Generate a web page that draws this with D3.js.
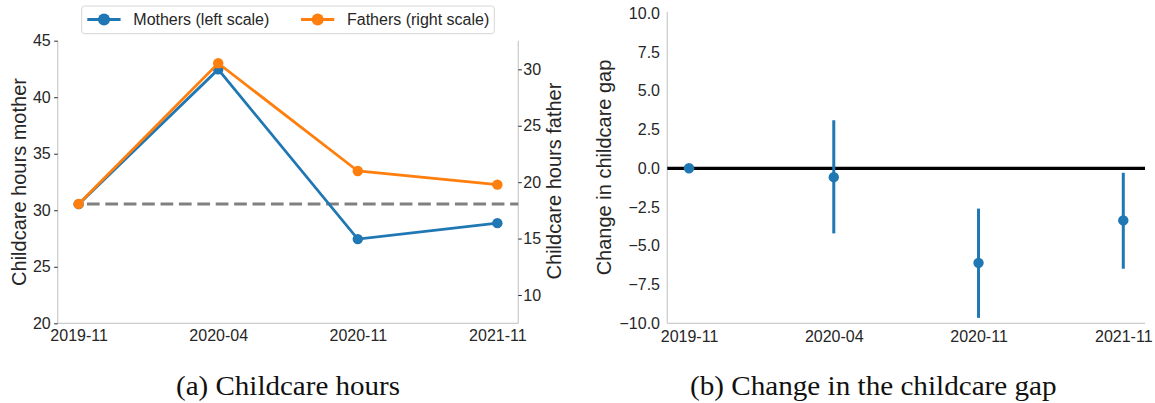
<!DOCTYPE html>
<html>
<head>
<meta charset="utf-8">
<script src="https://cdn.jsdelivr.net/npm/d3@7"></script>
<style>
  body { margin: 0; background: #fff; }
  text { font-family: "Liberation Sans", Arial, sans-serif; fill: #262626; }
  .caption { font-family: "Liberation Serif", "Times New Roman", serif; fill: #111; }
</style>
</head>
<body>
<div id="chart"></div>
<script>
// Survey waves on the x axis
const waves = ["2019-11", "2020-04", "2020-11", "2021-11"];

// (a) childcare hours
const mothers = [30.54, 42.46, 27.45, 28.86];   // left scale
const fathers = [18.07, 30.54, 20.99, 19.78];   // right scale
const mothersBaseline = 30.55;
const leftTicks = [20, 25, 30, 35, 40, 45];
const rightTicks = [10, 15, 20, 25, 30];

// (b) change in the gap, with confidence bands
const gapEstimate = [0, -0.57, -6.1, -3.36];
const gapLower = [0, -4.2, -9.65, -6.48];
const gapUpper = [0, 3.1, -2.6, -0.29];
const gapTicks = [-10, -7.5, -5, -2.5, 0, 2.5, 5, 7.5, 10];

const blue = "#1f77b4", orange = "#ff7f0e", spineColor = "#cccccc";
const tickFont = "16px";

const svg = d3.select("#chart")
  .append("svg")
  .attr("width", 1155)
  .attr("height", 403);

svg.append("rect").attr("width", 1155).attr("height", 403).attr("fill", "#fff");

// ---------- panel (a) ----------
const a = {left: 57.7, right: 518.3, top: 40.7, bottom: 323.3};

const xa = d3.scaleLinear().domain([-0.15, 3.15]).range([a.left, a.right]);
const yMom = d3.scaleLinear().domain([20, 45]).range([a.bottom, a.top]);
const yDad = d3.scaleLinear().domain([7.49, 32.54]).range([a.bottom, a.top]);

const pa = svg.append("g");

// spines
pa.append("line").attr("x1", a.left).attr("x2", a.left).attr("y1", a.top).attr("y2", a.bottom)
  .attr("stroke", spineColor).attr("stroke-width", 1.25);
pa.append("line").attr("x1", a.right).attr("x2", a.right).attr("y1", a.top).attr("y2", a.bottom)
  .attr("stroke", spineColor).attr("stroke-width", 1.25);
pa.append("line").attr("x1", a.left).attr("x2", a.right).attr("y1", a.bottom).attr("y2", a.bottom)
  .attr("stroke", spineColor).attr("stroke-width", 1.25);

// axes
pa.append("g")
  .attr("transform", `translate(${a.left},0)`)
  .call(d3.axisLeft(yMom).tickValues(leftTicks).tickSize(3.5).tickPadding(3.5))
  .call(g => g.select(".domain").remove())
  .call(g => g.selectAll("line").attr("stroke", "#262626"))
  .call(g => g.selectAll("text").style("font-size", tickFont).attr("fill", "#262626"));

pa.append("g")
  .attr("transform", `translate(${a.right},0)`)
  .call(d3.axisRight(yDad).tickValues(rightTicks).tickSize(3.5).tickPadding(1.5))
  .call(g => g.select(".domain").remove())
  .call(g => g.selectAll("line").attr("stroke", "#262626"))
  .call(g => g.selectAll("text").style("font-size", tickFont).attr("fill", "#262626"));

pa.append("g")
  .attr("transform", `translate(0,${a.bottom})`)
  .call(d3.axisBottom(xa).tickValues([0, 1, 2, 3]).tickFormat(i => waves[i]).tickSize(0).tickPadding(6))
  .call(g => g.select(".domain").remove())
  .call(g => g.selectAll("text").style("font-size", tickFont).attr("fill", "#262626"));

// axis titles
pa.append("text")
  .attr("transform", `translate(26,182) rotate(-90)`)
  .style("text-anchor", "middle")
  .style("font-size", "20px")
  .text("Childcare hours mother");

pa.append("text")
  .attr("transform", `translate(561,181) rotate(-90)`)
  .style("text-anchor", "middle")
  .style("font-size", "20px")
  .text("Childcare hours father");

// baseline (dashed)
pa.append("line")
  .attr("x1", xa(0)).attr("x2", a.right)
  .attr("y1", yMom(mothersBaseline)).attr("y2", yMom(mothersBaseline))
  .attr("stroke", "#808080").attr("stroke-width", 3)
  .attr("stroke-dasharray", "12.7,5.7").attr("stroke-dashoffset", 10.1);

// series lines
const lineMom = d3.line().x((d, i) => xa(i)).y(d => yMom(d));
const lineDad = d3.line().x((d, i) => xa(i)).y(d => yDad(d));

pa.append("path").datum(mothers).attr("d", lineMom)
  .attr("fill", "none").attr("stroke", blue).attr("stroke-width", 2.8);
pa.selectAll(".dotM").data(mothers).join("circle")
  .attr("cx", (d, i) => xa(i)).attr("cy", d => yMom(d)).attr("r", 5.2).attr("fill", blue);

pa.append("path").datum(fathers).attr("d", lineDad)
  .attr("fill", "none").attr("stroke", orange).attr("stroke-width", 2.8);
pa.selectAll(".dotF").data(fathers).join("circle")
  .attr("cx", (d, i) => xa(i)).attr("cy", d => yDad(d)).attr("r", 5.2).attr("fill", orange);

// legend
const lg = pa.append("g");
lg.append("rect")
  .attr("x", 81.7).attr("y", 6).attr("width", 412.6).attr("height", 27.7).attr("rx", 3)
  .attr("fill", "#fff").attr("fill-opacity", 0.8).attr("stroke", "#d6d6d6");
const legendItems = [
  {label: "Mothers (left scale)", color: blue, x0: 87.3},
  {label: "Fathers (right scale)", color: orange, x0: 301}
];
legendItems.forEach(it => {
  lg.append("line").attr("x1", it.x0).attr("x2", it.x0 + 33.3).attr("y1", 19.5).attr("y2", 19.5)
    .attr("stroke", it.color).attr("stroke-width", 2.8);
  lg.append("circle").attr("cx", it.x0 + 16.7).attr("cy", 19.5).attr("r", 6).attr("fill", it.color);
  lg.append("text").attr("x", it.x0 + 46).attr("y", 24.8)
    .style("font-size", "16px").text(it.label);
});

// caption
svg.append("text").attr("class", "caption")
  .attr("x", 288).attr("y", 395)
  .style("text-anchor", "middle").style("font-size", "27px")
  .attr("textLength", 224).attr("lengthAdjust", "spacingAndGlyphs")
  .text("(a) Childcare hours");

// ---------- panel (b) ----------
const b = {left: 667.3, right: 1145, top: 13.3, bottom: 323.3};

const xb = d3.scaleLinear().domain([-0.15, 3.15]).range([b.left, b.right]);
const yb = d3.scaleLinear().domain([-10, 10]).range([b.bottom, b.top]);

const pb = svg.append("g");

pb.append("line").attr("x1", b.left).attr("x2", b.left).attr("y1", b.top - 1.5).attr("y2", b.bottom)
  .attr("stroke", spineColor).attr("stroke-width", 1.25);
pb.append("line").attr("x1", b.left).attr("x2", b.right).attr("y1", b.bottom).attr("y2", b.bottom)
  .attr("stroke", spineColor).attr("stroke-width", 1.25);

pb.append("g")
  .attr("transform", `translate(${b.left},0)`)
  .call(d3.axisLeft(yb).tickValues(gapTicks).tickSize(0).tickPadding(7.3)
    .tickFormat(d => d3.format(".1f")(d).replace("-", "\u2212")))
  .call(g => g.select(".domain").remove())
  .call(g => g.selectAll("text").style("font-size", tickFont).attr("fill", "#262626"));

pb.append("g")
  .attr("transform", `translate(0,${b.bottom})`)
  .call(d3.axisBottom(xb).tickValues([0, 1, 2, 3]).tickFormat(i => waves[i]).tickSize(0).tickPadding(7.5))
  .call(g => g.select(".domain").remove())
  .call(g => g.selectAll("text").style("font-size", tickFont).attr("fill", "#262626"));

pb.append("text")
  .attr("transform", `translate(611,167.5) rotate(-90)`)
  .style("text-anchor", "middle")
  .style("font-size", "20px")
  .text("Change in childcare gap");

// zero line
pb.append("line")
  .attr("x1", b.left).attr("x2", b.right)
  .attr("y1", yb(0)).attr("y2", yb(0))
  .attr("stroke", "#000").attr("stroke-width", 3.2);

// error bars and points
pb.selectAll(".err").data(gapEstimate).join("line")
  .attr("x1", (d, i) => xb(i)).attr("x2", (d, i) => xb(i))
  .attr("y1", (d, i) => yb(gapLower[i])).attr("y2", (d, i) => yb(gapUpper[i]))
  .attr("stroke", blue).attr("stroke-width", 3);

pb.selectAll(".pt").data(gapEstimate).join("circle")
  .attr("cx", (d, i) => xb(i)).attr("cy", d => yb(d)).attr("r", 5.2).attr("fill", blue);

svg.append("text").attr("class", "caption")
  .attr("x", 873.3).attr("y", 394.5)
  .style("text-anchor", "middle").style("font-size", "27px")
  .attr("textLength", 366.7).attr("lengthAdjust", "spacingAndGlyphs")
  .text("(b) Change in the childcare gap");
</script>
</body>
</html>
